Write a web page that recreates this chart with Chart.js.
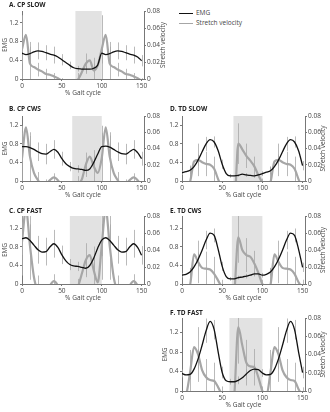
<!DOCTYPE html>
<html>
<head>
<meta charset="utf-8">
<title>EMG and stretch velocity over the gait cycle</title>
<script src="https://cdn.jsdelivr.net/npm/chart.js@4.4.1/dist/chart.umd.min.js"></script>
<style>
  html, body { margin: 0; padding: 0; background: #fff; }
  #fig { position: relative; width: 330px; height: 412px; overflow: hidden; font-family: "Open Sans", sans-serif; }
  #fig canvas { position: absolute; }
  .panel-title { position: absolute; font-size: 6.5px; line-height: 8px; font-weight: bold; color: #222; white-space: nowrap; }
  .key { position: absolute; left: 179px; font-size: 6.5px; line-height: 8px; color: #444; white-space: nowrap; }
  .key i { display: inline-block; width: 14px; height: 1.3px; vertical-align: middle; margin-right: 3px; }
</style>
</head>
<body>
<div id="fig">
  <div class="key" style="top:9px"><i style="background:#111"></i>EMG</div>
  <div class="key" style="top:19px"><i style="background:#a6a6a6"></i>Stretch velocity</div>
</div>
<script>
// % gait cycle (1.5 cycles shown)
const gaitX = [0, 5, 10, 15, 20, 25, 30, 35, 40, 45, 50, 55, 60, 65, 70, 75, 80, 85, 90, 95, 100,
  105, 110, 115, 120, 125, 130, 135, 140, 145, 150];
// where the SD bars sit
const sdX = [0, 10, 20, 30, 40, 50, 60, 70, 80, 90, 100, 110, 120, 130, 140, 150];

const panelTitles = ["A. CP SLOW", "B. CP CWS", "C. CP FAST", "D. TD SLOW", "E. TD CWS", "F. TD FAST"];
const swingStart = [67, 63, 60, 64, 62, 59];
const emgMax = [1.45, 1.4, 1.47, 1.4, 1.47, 1.5];
const emgTicks = 0.4;
const velMax = 0.08;
const velTicks = 0.02;
const gaitTicks = 50;

// EMG (normalised)
const emgCpSlow = [0.55, 0.52, 0.54, 0.58, 0.60, 0.59, 0.56, 0.53, 0.51, 0.47, 0.41, 0.35, 0.29, 0.24, 0.22, 0.21, 0.21, 0.21, 0.23, 0.30, 0.55,
  0.52, 0.54, 0.58, 0.60, 0.59, 0.56, 0.53, 0.51, 0.47, 0.39];
const emgCpCws = [0.74, 0.74, 0.72, 0.68, 0.63, 0.59, 0.58, 0.63, 0.68, 0.62, 0.48, 0.37, 0.31, 0.27, 0.26, 0.25, 0.23, 0.26, 0.40, 0.58, 0.74,
  0.75, 0.73, 0.68, 0.63, 0.59, 0.58, 0.63, 0.68, 0.61, 0.48];
const emgCpFast = [0.98, 1.00, 0.94, 0.84, 0.74, 0.69, 0.70, 0.80, 0.87, 0.79, 0.63, 0.50, 0.42, 0.39, 0.38, 0.36, 0.34, 0.40, 0.56, 0.78, 0.95,
  1.00, 0.94, 0.84, 0.74, 0.69, 0.70, 0.80, 0.87, 0.79, 0.62];
const emgTdSlow = [0.18, 0.20, 0.23, 0.31, 0.45, 0.63, 0.80, 0.89, 0.84, 0.65, 0.36, 0.16, 0.11, 0.11, 0.12, 0.15, 0.13, 0.12, 0.11, 0.13, 0.16,
  0.19, 0.22, 0.31, 0.45, 0.63, 0.80, 0.89, 0.84, 0.65, 0.33];
const emgTdCws = [0.19, 0.21, 0.26, 0.37, 0.53, 0.73, 0.95, 1.10, 1.05, 0.75, 0.38, 0.16, 0.11, 0.11, 0.14, 0.15, 0.17, 0.19, 0.22, 0.22, 0.19,
  0.21, 0.26, 0.37, 0.53, 0.73, 0.95, 1.10, 1.05, 0.75, 0.36];
const emgTdFast = [0.36, 0.33, 0.34, 0.45, 0.66, 0.94, 1.24, 1.43, 1.26, 0.80, 0.38, 0.21, 0.19, 0.19, 0.22, 0.27, 0.35, 0.42, 0.45, 0.44, 0.37,
  0.33, 0.34, 0.45, 0.66, 0.94, 1.24, 1.43, 1.26, 0.80, 0.38];

// stretch velocity
const velCpSlow = [0.035, 0.052, 0.018, 0.014, 0.011, 0.009, 0.006, 0.005, 0.003, 0.001, -0.002, -0.005, -0.006, -0.004, -0.001, 0.008, 0.018, 0.022, 0.010, 0.016, 0.035,
  0.052, 0.018, 0.014, 0.011, 0.009, 0.006, 0.005, 0.003, 0.001, -0.002];
const velCpCws = [0.028, 0.066, 0.030, 0.010, 0.001, -0.006, -0.004, 0.001, 0.0045, 0.001, -0.006, -0.010, -0.010, -0.008, -0.004, 0.002, 0.020, 0.030, 0.018, 0.010, 0.028,
  0.066, 0.030, 0.010, 0.001, -0.006, -0.004, 0.001, 0.0045, 0.001, -0.006];
const velCpFast = [0.050, 0.088, 0.045, 0.008, -0.010, -0.020, -0.012, -0.002, 0.0035, -0.002, -0.015, -0.020, -0.020, -0.015, -0.004, 0.012, 0.028, 0.034, 0.016, 0.002, 0.045,
  0.088, 0.045, 0.008, -0.010, -0.020, -0.012, -0.002, 0.0035, -0.002, -0.015];
const velTdSlow = [-0.010, -0.006, -0.001, 0.024, 0.026, 0.023, 0.021, 0.020, 0.015, 0.002, -0.010, -0.020, -0.025, -0.030, 0.046, 0.039, 0.031, 0.025, 0.018, 0.007, -0.002,
  -0.008, -0.002, 0.024, 0.026, 0.023, 0.021, 0.020, 0.015, 0.002, -0.010];
const velTdCws = [-0.010, -0.006, -0.001, 0.035, 0.026, 0.019, 0.018, 0.017, 0.012, 0.004, -0.005, -0.015, -0.020, -0.010, 0.055, 0.040, 0.034, 0.032, 0.024, 0.013, 0.000,
  -0.005, -0.001, 0.035, 0.026, 0.019, 0.018, 0.017, 0.012, 0.002, -0.005];
const velTdFast = [-0.010, -0.005, 0.020, 0.048, 0.040, 0.023, 0.015, 0.012, 0.011, 0.004, -0.005, -0.015, -0.020, -0.005, 0.070, 0.050, 0.031, 0.027, 0.026, 0.015, 0.000,
  -0.005, 0.020, 0.048, 0.040, 0.023, 0.015, 0.012, 0.011, 0.002, -0.006];

// SD at sdX
const emgSdCpSlow = [0.22, 0.25, 0.18, 0.16, 0.18, 0.12, 0.08, 0.06, 0.07, 0.10, 0.22, 0.25, 0.18, 0.16, 0.18, 0.12];
const emgSdCpCws = [0.30, 0.25, 0.20, 0.22, 0.20, 0.15, 0.10, 0.08, 0.08, 0.15, 0.30, 0.25, 0.20, 0.22, 0.20, 0.15];
const emgSdCpFast = [0.35, 0.35, 0.30, 0.30, 0.30, 0.20, 0.12, 0.10, 0.15, 0.25, 0.35, 0.35, 0.30, 0.30, 0.30, 0.20];
const emgSdTdSlow = [0.05, 0.08, 0.12, 0.15, 0.12, 0.10, 0.04, 0.03, 0.04, 0.04, 0.05, 0.08, 0.12, 0.15, 0.12, 0.10];
const emgSdTdCws = [0.05, 0.08, 0.15, 0.20, 0.15, 0.10, 0.04, 0.04, 0.05, 0.05, 0.05, 0.08, 0.15, 0.20, 0.15, 0.10];
const emgSdTdFast = [0.08, 0.10, 0.20, 0.25, 0.20, 0.12, 0.06, 0.08, 0.10, 0.10, 0.08, 0.10, 0.20, 0.25, 0.20, 0.12];

const velSdCpSlow = [0.040, 0.020, 0.008, 0.006, 0.004, 0.003, 0.004, 0.008, 0.012, 0.015, 0.040, 0.020, 0.008, 0.006, 0.004, 0.003];
const velSdCpCws = [0.040, 0.030, 0.010, 0.006, 0.005, 0.004, 0.004, 0.010, 0.015, 0.020, 0.040, 0.030, 0.010, 0.006, 0.005, 0.004];
const velSdCpFast = [0.040, 0.040, 0.020, 0.010, 0.008, 0.005, 0.005, 0.010, 0.020, 0.020, 0.040, 0.040, 0.020, 0.010, 0.008, 0.005];
const velSdTdSlow = [0.005, 0.020, 0.020, 0.015, 0.015, 0.008, 0.008, 0.025, 0.015, 0.012, 0.005, 0.020, 0.020, 0.015, 0.015, 0.008];
const velSdTdCws = [0.005, 0.020, 0.025, 0.020, 0.020, 0.010, 0.010, 0.030, 0.020, 0.015, 0.005, 0.020, 0.025, 0.020, 0.020, 0.010];
const velSdTdFast = [0.005, 0.025, 0.030, 0.020, 0.020, 0.010, 0.010, 0.040, 0.025, 0.020, 0.005, 0.025, 0.030, 0.020, 0.020, 0.010];

const emgSeries = [emgCpSlow, emgCpCws, emgCpFast, emgTdSlow, emgTdCws, emgTdFast];
const velSeries = [velCpSlow, velCpCws, velCpFast, velTdSlow, velTdCws, velTdFast];
const emgSds = [emgSdCpSlow, emgSdCpCws, emgSdCpFast, emgSdTdSlow, emgSdTdCws, emgSdTdFast];
const velSds = [velSdCpSlow, velSdCpCws, velSdCpFast, velSdTdSlow, velSdTdCws, velSdTdFast];

const showEmgTitle = [true, true, true, false, false, true];
const showVelTitle = [true, false, false, true, true, true];

// where each panel sits on the page
const frames = [
  { left: 0, top: 3, height: 94, right: 24, tx: 9, ty: 0.7 },
  { left: 0, top: 108, height: 91, right: 24, tx: 9, ty: 105 },
  { left: 0, top: 208, height: 94, right: 24, tx: 9, ty: 206.7 },
  { left: 160, top: 108, height: 91, right: 23, tx: 170, ty: 105 },
  { left: 160, top: 208, height: 94, right: 23, tx: 170, ty: 206.7 },
  { left: 160, top: 310, height: 99, right: 23, tx: 170, ty: 309.3 },
];

const textColor = "#444";
const axisColor = "#777";
const fontSpec = { family: "'Open Sans', sans-serif", size: 6.5 };

Chart.defaults.font.family = fontSpec.family;
Chart.defaults.font.size = fontSpec.size;
Chart.defaults.color = textColor;

// swing phase shading + SD bars
const phasePlugin = {
  id: "phase",
  beforeDatasetsDraw(chart, args, opts) {
    const { ctx, chartArea: a, scales } = chart;
    const x0 = scales.x.getPixelForValue(opts.from);
    const x1 = scales.x.getPixelForValue(opts.to);
    ctx.save();
    ctx.fillStyle = "#e2e2e2";
    ctx.fillRect(x0, a.top, x1 - x0, a.bottom - a.top);
    ctx.beginPath();
    ctx.rect(a.left, a.top, a.right - a.left, a.bottom - a.top);
    ctx.clip();
    ctx.strokeStyle = "#a8a8a8";
    ctx.lineWidth = 0.8;
    chart.data.datasets.forEach((ds) => {
      const ys = scales[ds.yAxisID];
      ds.sd.forEach((sd, i) => {
        const idx = gaitX.indexOf(sdX[i]);
        const m = ds.data[idx].y;
        const px = Math.round(scales.x.getPixelForValue(sdX[i])) + 0.5;
        ctx.beginPath();
        ctx.moveTo(px, ys.getPixelForValue(m - sd));
        ctx.lineTo(px, ys.getPixelForValue(m + sd));
        ctx.stroke();
      });
    });
    ctx.restore();
  },
};

// right axis title, reading bottom to top
const sideTitle = {
  id: "sideTitle",
  afterDraw(chart, args, opts) {
    if (!opts.text) return;
    const { ctx, chartArea: a } = chart;
    ctx.save();
    ctx.translate(chart.width - 4.9, (a.top + a.bottom) / 2);
    ctx.rotate(-Math.PI / 2);
    ctx.font = fontSpec.size + "px " + fontSpec.family;
    ctx.fillStyle = textColor;
    ctx.textAlign = "center";
    ctx.textBaseline = "middle";
    ctx.fillText(opts.text, 0, 0);
    ctx.restore();
  },
};

const fig = document.getElementById("fig");

panelTitles.forEach((title, i) => {
  const f = frames[i];
  const canvas = document.createElement("canvas");
  canvas.width = 168;
  canvas.height = f.height;
  canvas.style.left = f.left + "px";
  canvas.style.top = f.top + "px";
  canvas.style.width = "168px";
  canvas.style.height = f.height + "px";
  fig.appendChild(canvas);

  const label = document.createElement("div");
  label.className = "panel-title";
  label.style.left = f.tx + "px";
  label.style.top = f.ty + "px";
  label.textContent = title;
  fig.appendChild(label);

  new Chart(canvas, {
    type: "line",
    data: {
      datasets: [
        {
          label: "EMG",
          data: gaitX.map((x, k) => ({ x, y: emgSeries[i][k] })),
          sd: emgSds[i],
          yAxisID: "y",
          borderColor: "#111",
          borderWidth: 1.3,
          pointRadius: 0,
          cubicInterpolationMode: "monotone",
          clip: 0,
        },
        {
          label: "Stretch velocity",
          data: gaitX.map((x, k) => ({ x, y: velSeries[i][k] })),
          sd: velSds[i],
          yAxisID: "y2",
          borderColor: "#a6a6a6",
          borderWidth: 2.2,
          pointRadius: 0,
          cubicInterpolationMode: "monotone",
          clip: 0,
        },
      ],
    },
    options: {
      responsive: false,
      animation: false,
      layout: { padding: { top: 8 } },
      plugins: {
        legend: { display: false },
        tooltip: { enabled: false },
        phase: { from: swingStart[i], to: 100 },
        sideTitle: { text: showVelTitle[i] ? "Stretch velocity" : "" },
      },
      scales: {
        x: {
          type: "linear",
          min: 0,
          max: 153,
          afterFit: (s) => { s.height = 18; },
          ticks: { stepSize: gaitTicks, includeBounds: false, padding: 1, maxRotation: 0 },
          grid: { drawOnChartArea: false, tickLength: 2, color: axisColor },
          border: { color: axisColor },
          title: { display: true, text: "% Gait cycle", padding: { top: 0, bottom: 0 } },
        },
        y: {
          position: "left",
          min: 0,
          max: emgMax[i],
          afterFit: (s) => { s.width = 22; },
          ticks: { stepSize: emgTicks, includeBounds: false, padding: 1.5 },
          grid: { drawOnChartArea: false, tickLength: 2, color: axisColor },
          border: { color: axisColor },
          title: { display: showEmgTitle[i], text: "EMG", padding: { top: 1, bottom: 0 } },
        },
        y2: {
          position: "right",
          min: 0,
          max: velMax,
          afterFit: (s) => { s.width = f.right; },
          ticks: { stepSize: velTicks, includeBounds: false, padding: 1 },
          grid: { drawOnChartArea: false, tickLength: 2, color: axisColor },
          border: { color: axisColor },
        },
      },
    },
    plugins: [phasePlugin, sideTitle],
  });
});
</script>
</body>
</html>
